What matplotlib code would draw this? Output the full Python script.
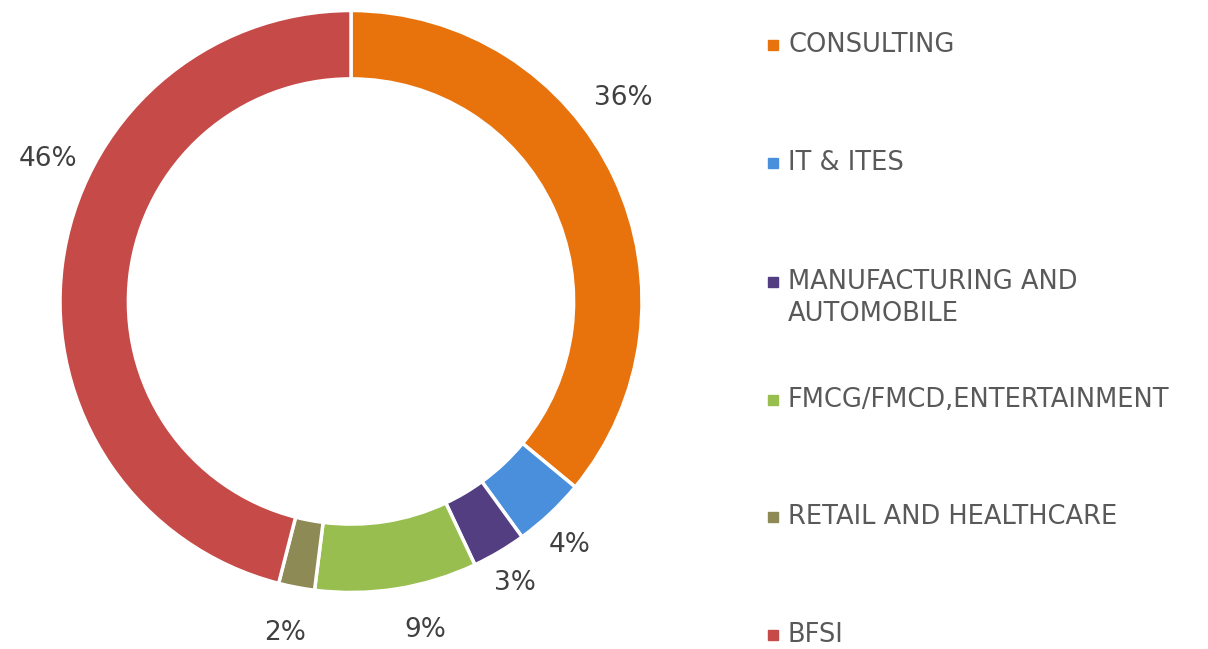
import matplotlib.pyplot as plt

# data
sectors = ['CONSULTING', 'IT & ITES', 'MANUFACTURING AND\nAUTOMOBILE',
           'FMCG/FMCD,ENTERTAINMENT', 'RETAIL AND HEALTHCARE', 'BFSI']
shares = [36, 4, 3, 9, 2, 46]
colors = ['#E8720C', '#4A8FDC', '#523E80', '#98BE50', '#8E8A55', '#C64A47']

# label spots (data coords, ring radius = 1)
label_xy = [(0.935, 0.700), (0.753, -0.837), (0.564, -0.967),
            (0.254, -1.129), (-0.227, -1.139), (-1.040, 0.490)]

W, H = 1208, 649
fig = plt.figure(figsize=(W / 100, H / 100), dpi=100)

# ring centre (351, 301) px, radius 291 px
cx, cy, r = 351, 301.5, 291
lim = 1.3
side = 2 * lim * r
ax = fig.add_axes([(cx - side / 2) / W, (H - cy - side / 2) / H, side / W, side / H])
ax.pie(shares, colors=colors, startangle=90, counterclock=False,
       wedgeprops=dict(width=0.235, edgecolor='white', linewidth=2.5))
ax.set_xlim(-lim, lim)
ax.set_ylim(-lim, lim)
ax.set_aspect('equal')
ax.axis('off')

for v, (x, y) in zip(shares, label_xy):
    ax.text(x, y, f'{v}%', ha='center', va='center', fontsize=19, color='#404040')

# legend drawn by hand
leg_y = [45, 163, 282, 400, 517, 635]
for name, c, y in zip(sectors, colors, leg_y):
    fig.patches.append(plt.Rectangle((768 / W, (H - y - 5) / H), 10 / W, 10 / H,
                                     transform=fig.transFigure, color=c))
    if '\n' in name:
        fig.text(788 / W, (H - y + 13) / H, name, ha='left', va='top',
                 fontsize=18.5, color='#595959', linespacing=1.3)
    else:
        fig.text(788 / W, (H - y) / H, name, ha='left', va='center',
                 fontsize=18.5, color='#595959')

fig.savefig('out.png', dpi=100)
